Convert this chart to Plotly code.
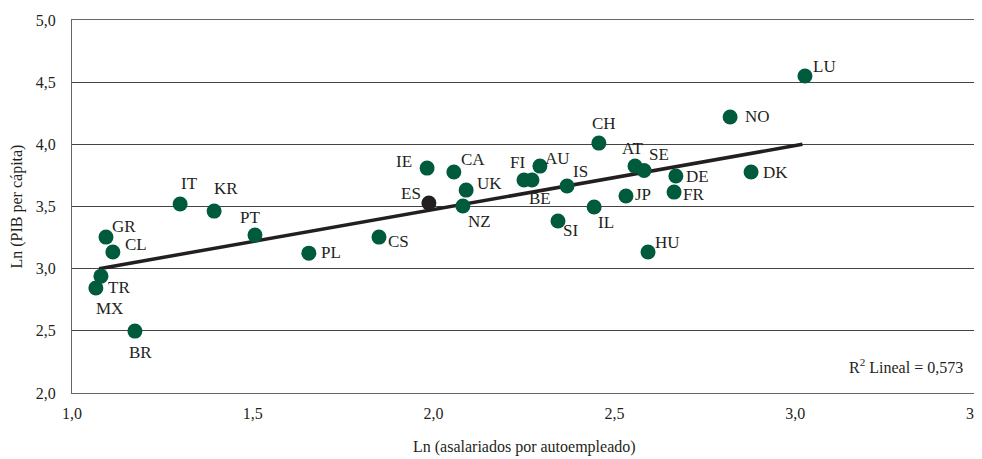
import plotly.graph_objects as go

countries = ["LU","NO","CH","AT","SE","DE","FR","DK","JP","IL","HU","SI","IS","AU","FI","BE",
             "IE","CA","UK","NZ","CS","PL","PT","KR","IT","GR","CL","TR","MX","BR"]
x_vals = [3.027,2.820,2.457,2.557,2.582,2.670,2.665,2.878,2.532,2.444,2.593,2.344,2.369,2.294,2.250,2.272,
          1.982,2.056,2.090,2.081,1.849,1.655,1.506,1.393,1.299,1.094,1.113,1.080,1.066,1.174]
y_vals = [4.549,4.220,4.010,3.825,3.790,3.745,3.616,3.777,3.584,3.496,3.134,3.383,3.665,3.825,3.713,3.713,
          3.809,3.777,3.632,3.504,3.254,3.125,3.270,3.463,3.520,3.254,3.134,2.940,2.844,2.498]
es_x = [1.987]
es_y = [3.528]
fit_x = [1.075, 3.02]
fit_y = [3.0, 4.0]
r2_text = "R<sup>2</sup> Lineal = 0,573"
x_title = "Ln (asalariados por autoempleado)"
y_title = "Ln (PIB per cápita)"

# label offsets in pixels (style)
offsets = {"LU":(20,-10),"NO":(27,0),"CH":(5,-20),"AT":(-3,-18),"SE":(15,-16),"DE":(22,0),"FR":(19,2),
           "DK":(24,0),"JP":(17,-2),"IL":(12,15),"HU":(19,-10),"SI":(13,9),"IS":(13,-14),"AU":(18,-8),
           "FI":(-7,-18),"BE":(8,18),"IE":(-23,-7),"CA":(19,-13),"UK":(23,-7),"NZ":(17,15),"CS":(19,4),
           "PL":(22,-1),"PT":(-5,-18),"KR":(12,-23),"IT":(9,-21),"GR":(18,-11),"CL":(23,-8),"TR":(18,11),
           "MX":(14,20),"BR":(6,21),"ES":(-18,-10)}

FONT = "Liberation Serif"
fig = go.Figure()
fig.add_trace(go.Scatter(x=fit_x, y=fit_y, mode="lines", line=dict(color="#231f20", width=3.5),
                         hoverinfo="skip", showlegend=False))
fig.add_trace(go.Scatter(x=x_vals, y=y_vals, mode="markers", text=countries,
                         marker=dict(color="#005a3c", size=15), showlegend=False))
fig.add_trace(go.Scatter(x=es_x, y=es_y, mode="markers", text=["ES"],
                         marker=dict(color="#231f20", size=15), showlegend=False))

anns = []
for c, xv, yv in list(zip(countries, x_vals, y_vals)) + [("ES", es_x[0], es_y[0])]:
    dx, dy = offsets[c]
    anns.append(dict(x=xv, y=yv, text=c, showarrow=False, xshift=dx, yshift=-dy,
                     font=dict(family=FONT, size=17, color="#231f20")))
anns.append(dict(x=3.47, y=2.22, xanchor="right", text=r2_text, showarrow=False,
                 font=dict(family=FONT, size=16, color="#231f20")))
# axis titles as annotations (page has an 8px body margin)
anns.append(dict(xref="paper", yref="paper", x=0.5, y=0, yshift=-54, xanchor="center", yanchor="middle",
                 text=x_title, showarrow=False, font=dict(family=FONT, size=16, color="#231f20")))
anns.append(dict(xref="paper", yref="paper", x=0, y=0.5, xshift=-56, xanchor="center", yanchor="middle",
                 textangle=-90, text=y_title, showarrow=False,
                 font=dict(family=FONT, size=16, color="#231f20")))

fig.update_layout(
    width=974, height=451, margin=dict(l=64, r=6, t=12, b=66),
    plot_bgcolor="white", paper_bgcolor="white",
    separators=",.",
    font=dict(family=FONT, size=16, color="#231f20"),
    annotations=anns,
    xaxis=dict(range=[1.0, 3.5], tickvals=[1.0,1.5,2.0,2.5,3.0,3.5], tickformat=".1f",
               showgrid=False, zeroline=False, showline=True, linecolor="#666", mirror=True,
               ticks="", automargin=False, ticklabelstandoff=6, ticklabeloverflow="allow"),
    yaxis=dict(range=[2.0, 5.0], tickvals=[2.0,2.5,3.0,3.5,4.0,4.5,5.0], tickformat=".1f",
               showgrid=True, gridcolor="#444", gridwidth=1, zeroline=False,
               showline=True, linecolor="#666", mirror=True, ticks="", automargin=False,
               ticklabelstandoff=12, ticklabeloverflow="allow"),
)
fig.write_html("out.html")
